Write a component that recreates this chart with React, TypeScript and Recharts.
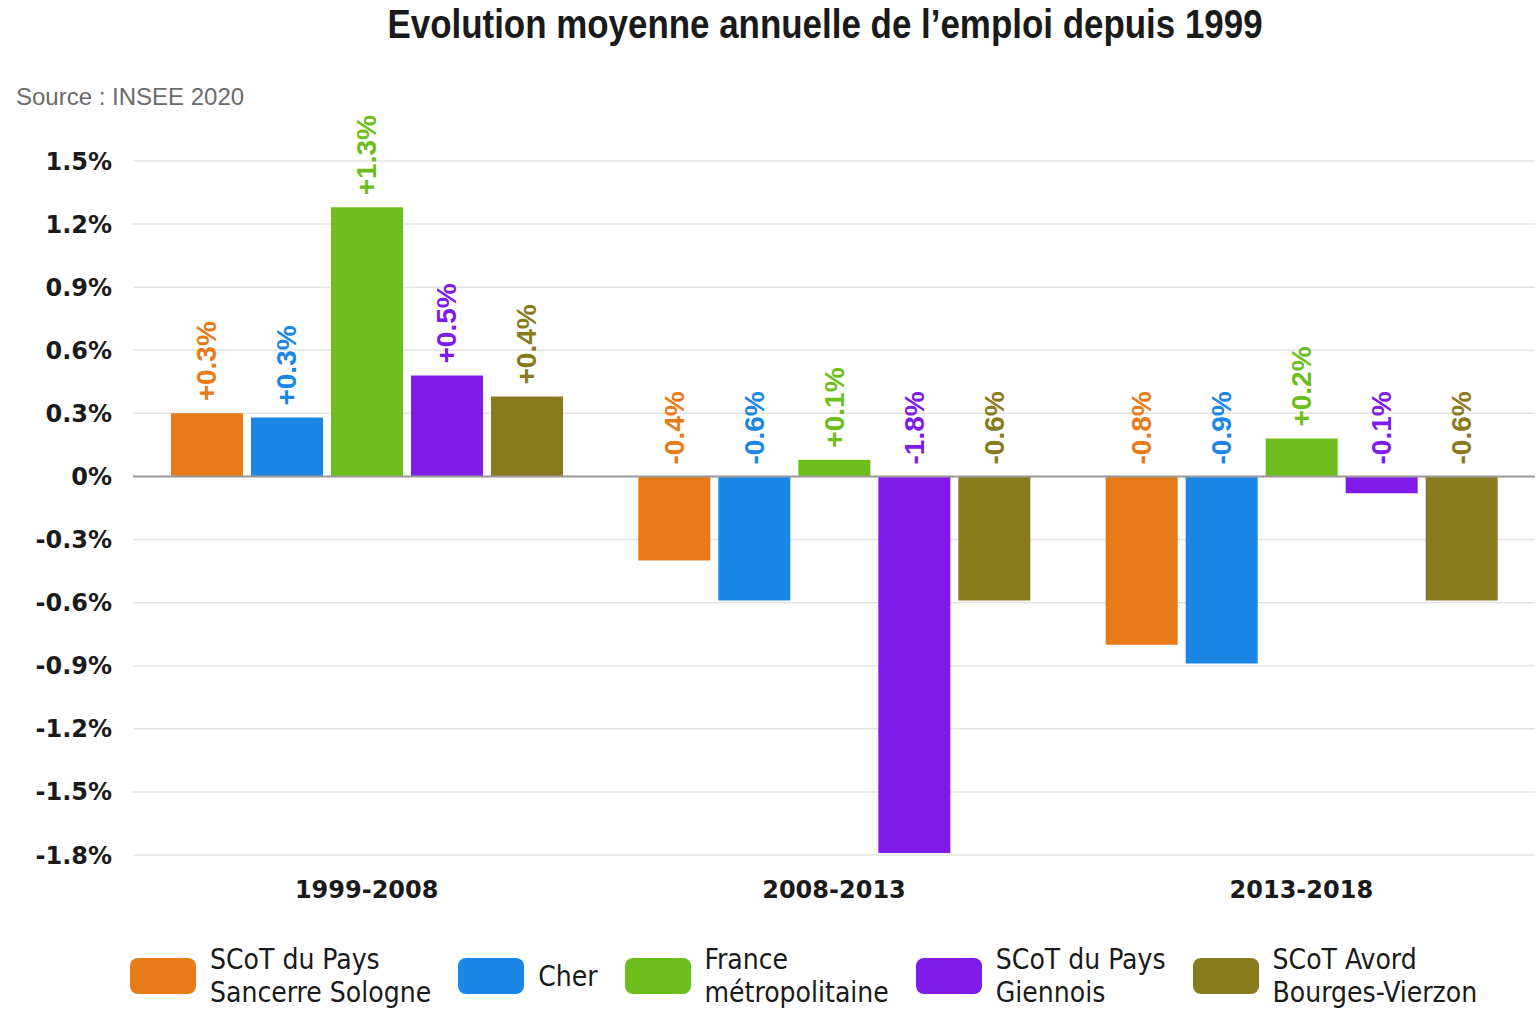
import React from "react";
import {
  BarChart,
  Bar,
  XAxis,
  YAxis,
  CartesianGrid,
  ReferenceLine,
  LabelList,
} from "recharts";

const periods = ["1999-2008", "2008-2013", "2013-2018"];
const sancerre = [0.3, -0.4, -0.8];
const cher = [0.28, -0.59, -0.89];
const france = [1.28, 0.08, 0.18];
const giennois = [0.48, -1.79, -0.08];
const avord = [0.38, -0.59, -0.59];
const yTicks = [-1.8, -1.5, -1.2, -0.9, -0.6, -0.3, 0, 0.3, 0.6, 0.9, 1.2, 1.5];

const series = [
  { key: "sancerre", lines: ["SCoT du Pays", "Sancerre Sologne"], color: "#E87A18" },
  { key: "cher", lines: ["Cher"], color: "#1C86E4" },
  { key: "france", lines: ["France", "métropolitaine"], color: "#6DBD1C" },
  { key: "giennois", lines: ["SCoT du Pays", "Giennois"], color: "#7F1AE8" },
  { key: "avord", lines: ["SCoT Avord", "Bourges-Vierzon"], color: "#8A7A1E" },
];

const data = periods.map((p, i) => ({
  period: p,
  sancerre: sancerre[i],
  cher: cher[i],
  france: france[i],
  giennois: giennois[i],
  avord: avord[i],
}));

const fmtTick = (v: number) => `${Number(v.toFixed(1))}%`;
const fmtLabel = (v: number) => `${v > 0 ? "+" : ""}${v.toFixed(1)}%`;

function makeLabel(color: string) {
  return function BarLabel(props: any) {
    const { x, y, width, height, value } = props;
    const cx = Number(x) + Number(width) / 2;
    const top = Math.min(Number(y), Number(y) + Number(height));
    const ay = top - 12;
    return (
      <text
        x={cx}
        y={ay}
        transform={`rotate(-90, ${cx}, ${ay})`}
        textAnchor="start"
        dominantBaseline="central"
        fill={color}
        style={{ fontFamily: "'Liberation Sans', Arial, sans-serif", fontWeight: 700, fontSize: 28 }}
      >
        {fmtLabel(Number(value))}
      </text>
    );
  };
}

export default function App() {
  return (
    <div
      style={{
        position: "absolute",
        left: 0,
        top: 0,
        width: 1539,
        height: 1009,
        background: "#fff",
        overflow: "hidden",
      }}
    >
      <div
        style={{
          position: "absolute",
          top: 2,
          left: 0,
          width: 1650,
          textAlign: "center",
          fontFamily: "'Liberation Sans', Arial, sans-serif",
          fontWeight: 700,
          fontSize: 40,
          color: "#1a1a1a",
          transform: "scaleX(0.873)",
          transformOrigin: "825px 0",
        }}
      >
        Evolution moyenne annuelle de l’emploi depuis 1999
      </div>
      <div
        style={{
          position: "absolute",
          top: 83,
          left: 16,
          fontFamily: "'Liberation Sans', Arial, sans-serif",
          fontSize: 24,
          color: "#6b6b6b",
        }}
      >
        Source : INSEE 2020
      </div>

      <BarChart
        width={1539}
        height={930}
        data={data}
        margin={{ top: 161, right: 4, left: 0, bottom: 25 }}
        barCategoryGap={38}
        barGap={8}
      >
        <CartesianGrid vertical={false} stroke="#e4e4e4" strokeWidth={1.5} />
        <XAxis
          dataKey="period"
          axisLine={false}
          tickLine={false}
          tickSize={0}
          tickMargin={26}
          height={50}
          tick={{ fill: "#1a1a1a", fontSize: 24, fontWeight: 700, fontFamily: "'DejaVu Sans', sans-serif" }}
        />
        <YAxis
          width={133}
          domain={[-1.8, 1.5]}
          ticks={yTicks}
          interval={0}
          axisLine={false}
          tickLine={false}
          tickSize={0}
          tickMargin={21}
          tickFormatter={fmtTick}
          tick={{ fill: "#1a1a1a", fontSize: 24, fontWeight: 700, fontFamily: "'DejaVu Sans', sans-serif" }}
        />
        {series.map((s) => (
          <Bar key={s.key} dataKey={s.key} fill={s.color} isAnimationActive={false}>
            <LabelList dataKey={s.key} content={makeLabel(s.color)} />
          </Bar>
        ))}
        <ReferenceLine y={0} stroke="#9a9a9a" strokeWidth={2} />
      </BarChart>

      <div
        style={{
          position: "absolute",
          top: 943,
          left: 130,
          display: "flex",
          alignItems: "center",
          gap: 27,
          fontFamily: "'DejaVu Sans Condensed', 'DejaVu Sans', sans-serif",
          fontSize: 28,
          lineHeight: "33px",
          color: "#1a1a1a",
        }}
      >
        {series.map((s) => (
          <div key={s.key} style={{ display: "flex", alignItems: "center" }}>
            <div
              style={{
                width: 66,
                height: 36,
                borderRadius: 8,
                background: s.color,
                marginRight: 14,
              }}
            />
            <div>
              {s.lines.map((l) => (
                <div key={l}>{l}</div>
              ))}
            </div>
          </div>
        ))}
      </div>
    </div>
  );
}
